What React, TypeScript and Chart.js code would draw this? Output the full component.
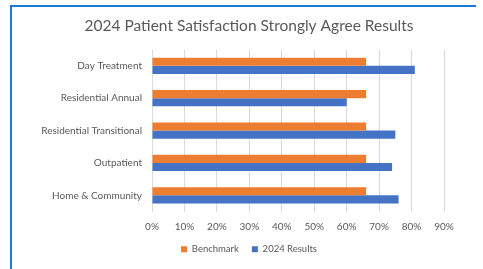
import React, { useEffect, useRef } from "react";
import { Chart, registerables } from "chart.js";

Chart.register(...registerables);

const categories = [
  "Day Treatment",
  "Residential Annual",
  "Residential Transitional",
  "Outpatient",
  "Home & Community",
];
const benchmark = [66, 66, 66, 66, 66];
const results2024 = [81, 60, 75, 74, 76];
const seriesNames = ["Benchmark", "2024 Results"];
const titleText = "2024 Patient Satisfaction Strongly Agree Results";

const FONT = "Lato, 'Open Sans', sans-serif";
const TEXT = "#595959";

// Shift the title and legend boxes so they are centred on the whole chart frame
const centerShift = {
  id: "centerShift",
  afterLayout(chart: any) {
    const dx = 27;
    [chart.titleBlock, chart.legend].forEach((b: any) => {
      if (b) {
        b.left += dx;
        b.right += dx;
      }
    });
  },
};

export default function App() {
  const ref = useRef<HTMLCanvasElement | null>(null);

  useEffect(() => {
    if (!ref.current) return;
    const chart = new Chart(ref.current, {
      type: "bar",
      data: {
        labels: categories,
        datasets: [
          {
            label: seriesNames[0],
            data: benchmark,
            backgroundColor: "#ED7D31",
            borderWidth: 0,
            barPercentage: 1,
            categoryPercentage: 0.5,
          },
          {
            label: seriesNames[1],
            data: results2024,
            backgroundColor: "#4472C4",
            borderWidth: 0,
            barPercentage: 1,
            categoryPercentage: 0.5,
          },
        ],
      },
      plugins: [centerShift],
      options: {
        indexAxis: "y",
        responsive: false,
        animation: false,
        devicePixelRatio: 1,
        layout: { padding: { left: 0, right: 39, top: 0, bottom: 5 } },
        plugins: {
          title: {
            display: true,
            text: titleText,
            color: TEXT,
            font: { family: FONT, size: 15.5, weight: "normal" },
            padding: { top: 17, bottom: 14 },
          },
          legend: {
            position: "bottom",
            labels: {
              boxWidth: 6,
              boxHeight: 6,
              padding: 13,
              color: TEXT,
              font: { family: FONT, size: 9.5 },
            },
          },
          tooltip: { enabled: false },
        },
        scales: {
          x: {
            min: 0,
            max: 90,
            ticks: {
              stepSize: 10,
              color: TEXT,
              padding: 9,
              font: { family: FONT, size: 10 },
              callback: (v: any) => v + "%",
            },
            grid: { color: "#d9d9d9", drawTicks: false },
            border: { display: false },
            afterFit: (s: any) => {
              s.height = 20;
            },
          },
          y: {
            ticks: {
              color: TEXT,
              padding: 10,
              font: { family: FONT, size: 10 },
            },
            grid: { display: false, drawTicks: false },
            border: { display: false },
            afterFit: (s: any) => {
              s.width = 152;
            },
          },
        },
      } as any,
    });
    return () => chart.destroy();
  }, []);

  return (
    <div
      style={{
        position: "fixed",
        left: 0,
        top: 0,
        width: 483,
        height: 269,
        background: "#ffffff",
      }}
    >
      <canvas
        ref={ref}
        width={483}
        height={269}
        style={{ position: "absolute", left: 0, top: 0, width: 483, height: 269 }}
      />
      <div
        style={{
          position: "absolute",
          left: 10,
          top: 5,
          width: 466,
          height: 264,
          borderTop: "2px solid #1f78d1",
          borderLeft: "2px solid #1f78d1",
          boxSizing: "border-box",
          pointerEvents: "none",
        }}
      />
    </div>
  );
}
